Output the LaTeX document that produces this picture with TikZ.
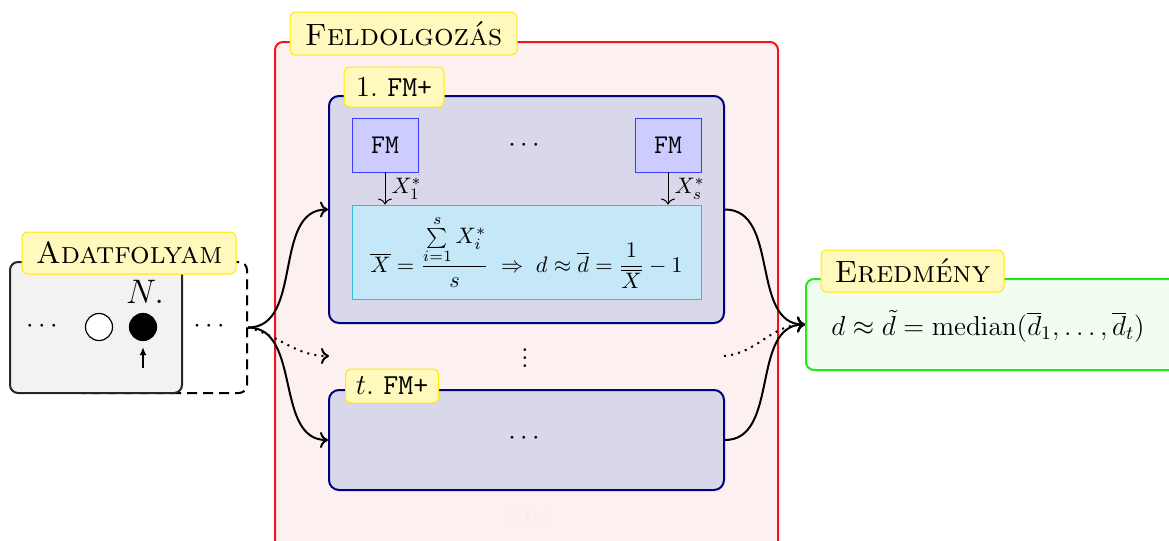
\RequirePackage{fix-cm}
\documentclass[tikz,border=0pt]{standalone}
\usetikzlibrary{arrows.meta}
\definecolor{lblfill}{RGB}{255,249,189}
\definecolor{lblborder}{RGB}{255,235,0}
\definecolor{procfill}{RGB}{253,240,240}
\definecolor{procborder}{RGB}{245,20,30}
\definecolor{fmpfill}{RGB}{216,216,234}
\definecolor{fmpborder}{RGB}{0,0,128}
\definecolor{fmfill}{RGB}{204,204,255}
\definecolor{fmborder}{RGB}{60,60,255}
\definecolor{cyfill}{RGB}{197,232,248}
\definecolor{cyborder}{RGB}{51,187,221}
\definecolor{resfill}{RGB}{240,253,240}
\definecolor{resborder}{RGB}{30,235,30}
\definecolor{srcfill}{RGB}{242,242,242}
\definecolor{ghost}{RGB}{252,236,236}
\begin{document}
\begin{tikzpicture}[x=0.5pt,y=-0.5pt,
  lbl/.style={draw=lblborder, fill=lblfill, rounded corners=3pt, line width=0.5pt, inner sep=0pt},
  bigbox/.style={rounded corners=4pt, line width=1pt, inner sep=0pt},
  fmpbox/.style={draw=fmpborder, fill=fmpfill, rounded corners=5pt, line width=1pt, inner sep=0pt, minimum width=197.5pt},
  fmbox/.style={draw=fmborder, fill=fmfill, line width=0.4pt, inner sep=0pt, minimum width=33pt, minimum height=27pt, font=\fontsize{13.5}{15}\selectfont\ttfamily},
  conn/.style={line width=1pt, -{To[length=4pt,width=8pt]}},
  dotconn/.style={conn, dash pattern=on 1pt off 2.6pt},
  smallarr/.style={line width=0.5pt, -{To[length=3pt,width=7pt]}},
  capsfont/.style={font=\fontsize{15.4}{18}\selectfont},
  fmpfont/.style={font=\fontsize{14.5}{16}\selectfont},
  dotsfont/.style={font=\fontsize{13.5}{15}\selectfont}
]
\useasboundingbox (0,0) rectangle (1169,541);

% ---------- Adatfolyam ----------
\node[bigbox, draw=black, dash pattern=on 5pt off 3pt, minimum width=86pt, minimum height=65.5pt] (dashbox) at (161,327.5) {};
\node[bigbox, draw=black!85, fill=srcfill, minimum width=86pt, minimum height=65.5pt] (src) at (96,327.5) {};
\node[lbl, capsfont, minimum width=107pt, minimum height=21pt] (srclbl) at (129,253) {\textsc{Adatfolyam}};
\node[dotsfont] (ldots) at (42,326) {$\cdots$};
\node[draw=black, fill=white, circle, line width=0.6pt, minimum size=13.5pt, inner sep=0pt] (wc) at (99,327) {};
\node[draw=black, fill=black, circle, line width=0.6pt, minimum size=13.5pt, inner sep=0pt] (bc) at (143,327) {};
\node[font=\fontsize{17}{18}\selectfont] (nlab) at (145,292) {$N.$};
\coordinate (ptr) at (143,368);
\draw[line width=0.8pt, -{Latex[length=4pt,width=3.5pt]}, shorten >=3pt] (ptr) -- (bc.south);
\node[dotsfont] (rdots) at (209,326) {$\cdots$};

% ---------- Feldolgozas ----------
\node[bigbox, draw=procborder, fill=procfill, minimum width=251.5pt, minimum height=260pt] (proc) at (526.5,302) {};
\node[lbl, capsfont, minimum width=113.5pt, minimum height=21.5pt] (proclbl) at (403.5,33.5) {\textsc{Feldolgozás}};
\node[font=\bfseries\fontsize{10.5}{12}\selectfont, text=ghost] (ghosttxt) at (530,513) {NLÁ};

% top FM+
\node[fmpbox, minimum height=113.5pt] (top) at (526.5,209.5) {};
\node[lbl, fmpfont, minimum width=50pt, minimum height=20pt] (toplbl) at (394,87) {1.\ \texttt{FM+}};
\node[fmbox] (fm1) at (385,145) {FM};
\node[fmbox] (fms) at (668,145) {FM};
\node[dotsfont] (fmdots) at (524,145) {$\cdots$};
\node[draw=cyborder, fill=cyfill, line width=0.5pt, inner sep=0pt, minimum width=174.5pt, minimum height=47pt, font=\fontsize{11.2}{12}\selectfont] (cy) at (526.5,252)
  {$\displaystyle \overline{X} = \frac{\sum\limits_{i=1}^{s} X_i^*}{s} \;\Rightarrow\; d \approx \overline{d} = \frac{1}{\overline{X}} - 1$};
\draw[smallarr] (fm1.south) -- (fm1 |- cy.north) node[midway, right, inner sep=3pt, font=\fontsize{16}{17}\selectfont] {$\scriptstyle X_1^*$};
\draw[smallarr] (fms.south) -- (fms |- cy.north) node[midway, right, inner sep=3pt, font=\fontsize{16}{17}\selectfont] {$\scriptstyle X_s^*$};

% middle vdots
\node[font=\fontsize{14}{15}\selectfont] (vd) at (525,352) {$\vdots$};

% bottom FM+
\node[fmpbox, minimum height=50pt] (bot) at (526.5,440) {};
\node[lbl, fmpfont, minimum width=46.5pt, minimum height=17pt] (botlbl) at (392,386) {$t$.\ \texttt{FM+}};
\node[dotsfont] (botdots) at (524,438) {$\cdots$};

\coordinate (midin) at (329,356);
\coordinate (midout) at (724,356);

% ---------- Eredmeny ----------
\node[bigbox, draw=resborder, fill=resfill, minimum width=200pt, minimum height=45.5pt] (res) at (1006,324.5) {};
\node[lbl, capsfont, minimum width=91.5pt, minimum height=21pt] (reslbl) at (912.5,271) {\textsc{Eredmény}};
\node[font=\fontsize{13.7}{15}\selectfont] (resform) at (988,326) {$d \approx \tilde{d} = \mathrm{median}(\overline{d}_1, \ldots, \overline{d}_t)$};

% ---------- connectors ----------
\draw[conn] (dashbox.east) to[out=0,in=180] (top.west);
\draw[dotconn] (dashbox.east) to[out=-15,in=180] (midin);
\draw[conn] (dashbox.east) to[out=0,in=180] (bot.west);
\draw[conn] (top.east) to[out=0,in=180] (res.west);
\draw[conn] (bot.east) to[out=0,in=180] (res.west);
\draw[dotconn] (midout) to[out=5,in=180] (res.west);
\end{tikzpicture}
\end{document}
